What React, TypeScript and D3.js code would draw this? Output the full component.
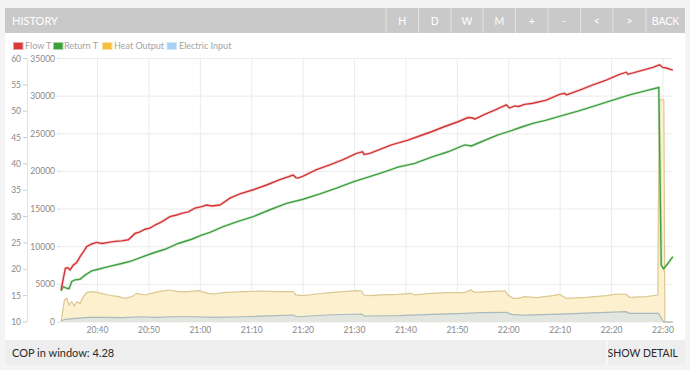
import React from "react";
import * as d3 from "d3";

// time values are minutes after 20:00
const timeTickLabels = ["20:40","20:50","21:00","21:10","21:20","21:30","21:40","21:50","22:00","22:10","22:20","22:30"];
const tempTicks = [10, 15, 20, 25, 30, 35, 40, 45, 50, 55, 60];
const powerTicks = [0, 5000, 10000, 15000, 20000, 25000, 30000, 35000];
const headerButtons = ["H", "D", "W", "M", "+", "-", "<", ">", "BACK"];
const legendNames = ["Flow T", "Return T", "Heat Output", "Electric Input"];

const flowT: [number, number][] = [
  [32.91,16.1],[33.74,20.2],[34.21,20.3],[34.66,19.9],[35.3,20.8],[35.96,21.3],[36.6,22.4],[37.24,23.3],
  [37.9,24.3],[38.87,24.8],[39.84,25.1],[40.82,24.9],[42.1,25.1],[43.4,25.3],[44.7,25.4],[45.99,25.6],
  [46.65,26.2],[47.29,26.8],[48.26,27.1],[49.23,27.6],[50.2,27.8],[51.18,28.4],[52.48,29.0],[54.09,30.0],
  [55.39,30.3],[56.37,30.6],[57.65,30.9],[58.95,31.6],[60.25,31.9],[61.22,32.2],[62.2,32.0],[63.81,32.2],
  [65.75,33.5],[67.7,34.3],[70.28,35.1],[72.89,36.0],[75.47,37.0],[78.06,37.9],[78.58,37.4],[79.03,37.3],
  [80.0,37.7],[82.6,38.9],[85.19,39.8],[87.77,40.8],[90.38,42.0],[91.55,42.3],[91.86,41.8],[92.96,42.0],
  [94.58,42.6],[97.18,43.6],[100.41,44.5],[102.35,45.2],[104.96,46.1],[107.54,47.1],[110.13,48.0],
  [112.07,48.8],[113.04,48.7],[113.37,48.5],[115.32,49.4],[117.26,50.2],[119.53,51.2],[120.17,50.6],
  [121.15,51.0],[121.92,50.9],[123.09,51.3],[124.7,51.5],[127.31,52.1],[129.89,53.2],[130.86,53.4],
  [131.2,53.1],[133.78,54.0],[136.37,55.0],[138.97,55.9],[141.55,57.0],[142.86,57.4],[143.17,57.0],
  [145.44,57.6],[148.03,58.3],[149.33,58.8],[149.97,58.3],[150.63,58.2],[151.92,57.8]
];

const returnT: [number, number][] = [
  [32.91,15.9],[33.35,16.7],[34.01,16.4],[34.46,16.3],[34.99,17.7],[35.63,18.0],[36.6,18.1],[37.57,18.9],
  [38.87,19.7],[40.16,20.0],[42.1,20.5],[44.7,21.1],[46.65,21.6],[48.59,22.3],[50.53,23.0],[53.12,23.8],
  [55.7,24.9],[58.31,25.7],[60.25,26.5],[61.87,27.0],[64.45,28.1],[67.06,29.0],[70.28,30.0],[73.53,31.3],
  [76.77,32.5],[80.0,33.3],[83.25,34.3],[86.49,35.4],[89.72,36.6],[92.32,37.4],[95.24,38.3],[98.46,39.4],
  [101.71,40.1],[104.96,41.3],[108.18,42.3],[111.43,43.6],[112.73,43.4],[114.67,44.2],[117.9,45.5],
  [120.5,46.3],[122.5,47.0],[124.7,47.7],[127.31,48.3],[130.53,49.2],[133.78,50.1],[137.03,51.1],
  [140.25,52.1],[143.5,53.1],[146.74,53.9],[149.19,54.5],[149.66,20.8],[150.11,20.1],[150.95,21.1],[151.92,22.4]
];

const heatOutput: [number, number][] = [
  [32.91,0],[33.55,2900],[34.01,3150],[34.46,2260],[34.99,2700],[35.49,2130],[35.96,2700],[36.6,2480],
  [37.24,3360],[37.9,3900],[38.87,4030],[40.16,3900],[42.1,3590],[44.04,3360],[45.34,3150],[46.65,3360],
  [47.62,3810],[49.23,3590],[50.53,3810],[51.82,4030],[54.09,4250],[55.7,4030],[57.65,4030],[59.59,4160],
  [61.54,3810],[62.84,3720],[64.45,3900],[68.34,4030],[72.23,4120],[74.83,4030],[78.06,4030],[78.58,3590],
  [80.0,3500],[82.6,3720],[85.19,3900],[87.77,4030],[90.38,4160],[91.35,4120],[91.8,3590],[92.96,3500],
  [95.24,3590],[98.46,3680],[101.07,3810],[101.71,3590],[104.96,3810],[108.18,3900],[111.43,3900],
  [112.6,4250],[113.37,3940],[115.96,4030],[119.21,4120],[119.85,3590],[120.82,3150],[121.79,3150],
  [123.09,3360],[125.36,3230],[128.59,3500],[129.89,3680],[131.2,3150],[135.08,3280],[138.97,3500],
  [141.23,3720],[142.86,3680],[143.5,3280],[146.74,3360],[149.0,3590],[149.24,29500],[150.17,29500],
  [150.37,0],[151.92,0]
];

const electricInput: [number, number][] = [
  [32.91,170],[33.74,360],[35.63,490],[38.21,620],[41.46,620],[44.7,570],[48.59,700],[51.18,620],
  [54.42,700],[58.95,700],[62.84,620],[68.34,700],[78.06,930],[78.72,700],[84.55,930],[91.35,1060],
  [92.0,800],[98.46,840],[104.96,1020],[111.43,1150],[114.67,1240],[119.53,1290],[120.5,1020],
  [123.09,900],[129.89,1050],[142.86,1370],[143.5,1150],[149.14,1150],[150.11,0],[151.92,0]
];

const toMin = (s: string) => {
  const [h, m] = s.split(":").map(Number);
  return (h - 20) * 60 + m;
};

const W = 690, H = 370;
const plotL = 60, plotR = 673, plotT = 58.5, plotB = 322;
const FONT = "Lato, 'Open Sans', sans-serif";

export default function App() {
  const x = d3.scaleLinear().domain([32.7, 151.95]).range([plotL, plotR]);
  const yT = d3.scaleLinear().domain([10, 60]).range([plotB, plotT]);
  const yP = d3.scaleLinear().domain([0, 35000]).range([plotB, plotT]);

  const lineT = d3.line<[number, number]>().x(d => x(d[0])).y(d => yT(d[1]));
  const areaP = d3.area<[number, number]>().x(d => x(d[0])).y0(yP(0)).y1(d => yP(d[1]));
  const lineP = d3.line<[number, number]>().x(d => x(d[0])).y(d => yP(d[1]));

  const btnEdges = [386, 418.5, 451, 483, 515.5, 548, 580.5, 613, 646, 685];

  const legendItems = [
    { name: legendNames[0], fill: "#d63a3a", stroke: "#eaa3a3", x: 13, tx: 25 },
    { name: legendNames[1], fill: "#3d9e3d", stroke: "#a6d3a6", x: 53, tx: 64 },
    { name: legendNames[2], fill: "#f4c03e", stroke: "#f9e1a4", x: 102, tx: 114 },
    { name: legendNames[3], fill: "#a7d1f5", stroke: "#d2e7f9", x: 166.5, tx: 179 },
  ];

  return (
    <div style={{ position: "absolute", left: 0, top: 0 }}>
      <svg width={W} height={H} style={{ display: "block" }} fontFamily={FONT}>
        <rect x={0} y={0} width={W} height={H} fill="#f4f4f4" />
        {/* panel */}
        <rect x={5} y={8} width={680} height={357} fill="#ffffff" />
        {/* header */}
        <rect x={5} y={8} width={680} height={25} fill="#c9c9c9" />
        <text x={12} y={24.5} fontSize={11} fill="#ffffff">HISTORY</text>
        {headerButtons.map((b, i) => {
          const x0 = btnEdges[i], x1 = btnEdges[i + 1];
          return (
            <g key={b + i}>
              <line x1={x0} x2={x0} y1={8} y2={33} stroke="#e2e2e2" strokeWidth={1} />
              <text x={(x0 + x1) / 2} y={24.5} fontSize={10.5} fill="#ffffff" textAnchor="middle">{b}</text>
            </g>
          );
        })}

        {/* legend */}
        {legendItems.map(l => (
          <g key={l.name}>
            <rect x={l.x + 0.5} y={42.5} width={9.5} height={7} fill={l.fill} stroke={l.stroke} strokeWidth={1} />
            <text x={l.tx} y={49.3} fontSize={9} fill="#a3a3a3">{l.name}</text>
          </g>
        ))}

        {/* grid */}
        {powerTicks.map(p => (
          <line key={"g" + p} x1={plotL} x2={plotR} y1={yP(p)} y2={yP(p)} stroke="#ebebeb" strokeWidth={1} />
        ))}
        {timeTickLabels.map(t => (
          <line key={"v" + t} x1={x(toMin(t))} x2={x(toMin(t))} y1={plotT} y2={plotB} stroke="#ebebeb" strokeWidth={1} />
        ))}

        {/* temperature axis */}
        <line x1={27.5} x2={27.5} y1={plotT} y2={plotB} stroke="#e3e3e3" />
        {tempTicks.map(t => (
          <g key={"t" + t}>
            <line x1={23} x2={27} y1={yT(t)} y2={yT(t)} stroke="#cccccc" />
            <text x={21} y={yT(t) + 3} fontSize={8.5} fill="#888888" textAnchor="end">{t}</text>
          </g>
        ))}
        {/* power axis */}
        {powerTicks.map(p => (
          <g key={"p" + p}>
            <line x1={57} x2={plotL} y1={yP(p)} y2={yP(p)} stroke="#dddddd" />
            <text x={55} y={yP(p) + 3} fontSize={8.5} fill="#888888" textAnchor="end">{p}</text>
          </g>
        ))}
        {/* x axis labels */}
        {timeTickLabels.map(t => (
          <text key={"x" + t} x={x(toMin(t))} y={333} fontSize={8.5} fill="#888888" textAnchor="middle">{t}</text>
        ))}

        {/* areas */}
        <path d={areaP(heatOutput) || ""} fill="#fcf0cf" />
        <path d={lineP(heatOutput) || ""} fill="none" stroke="#dcc790" strokeWidth={1.2} />
        <path d={areaP(electricInput) || ""} fill="#e2e6df" />
        <path d={lineP(electricInput) || ""} fill="none" stroke="#a9b9bc" strokeWidth={1.2} />

        {/* lines */}
        <path d={lineT(returnT) || ""} fill="none" stroke="#b9dfb9" strokeWidth={3} opacity={0.5} />
        <path d={lineT(returnT) || ""} fill="none" stroke="#3f9f3f" strokeWidth={1.4} />
        <path d={lineT(flowT) || ""} fill="none" stroke="#f0b5b5" strokeWidth={3} opacity={0.5} />
        <path d={lineT(flowT) || ""} fill="none" stroke="#d33535" strokeWidth={1.4} />

        {/* footer */}
        <rect x={5} y={340} width={680} height={25} fill="#eeeeee" />
        <line x1={607} x2={607} y1={340} y2={365} stroke="#ffffff" />
        <text x={12} y={356.5} fontSize={11} fill="#2a2a2a">COP in window: 4.28</text>
        <text x={678} y={356.5} fontSize={10.5} fill="#2a2a2a" textAnchor="end">SHOW DETAIL</text>
      </svg>
    </div>
  );
}
